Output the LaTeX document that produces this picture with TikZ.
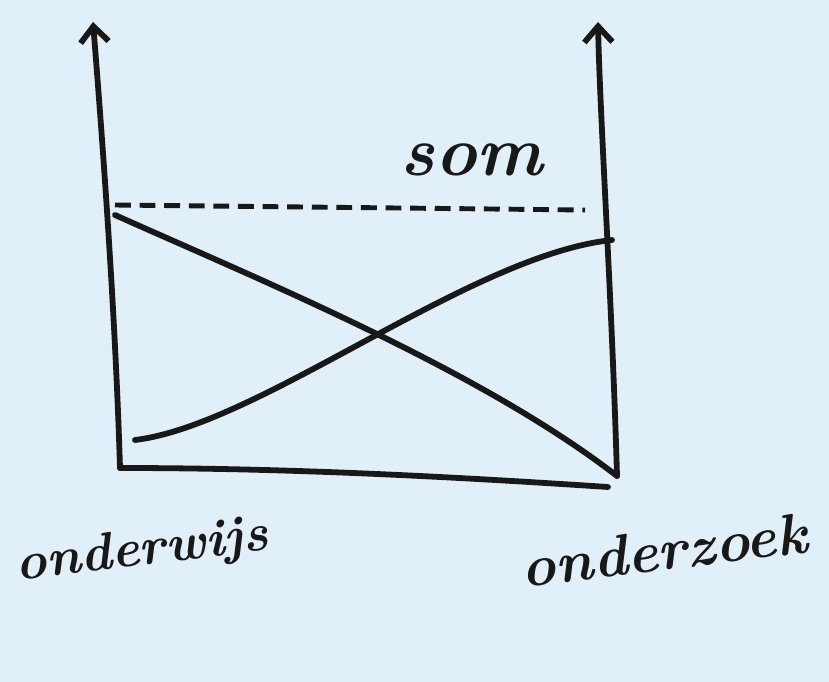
\documentclass[tikz,border=0pt]{standalone}
\usepackage{xcolor}
\usetikzlibrary{arrows.meta}
\definecolor{paper}{RGB}{224,239,248}
\definecolor{ink}{RGB}{24,24,24}

\begin{document}
\begin{tikzpicture}[
    x=0.02cm, y=-0.02cm,
    pen/.style={draw=ink, line width=3.3pt, line cap=round, line join=round},
    axis/.style={pen, -{Straight Barb[length=9pt, width=16pt, line width=3.3pt]}},
    sumline/.style={draw=ink, line width=2.8pt, dash pattern=on 9pt off 5pt},
    hand/.style={text=ink, font=\bfseries\itshape\fontsize{30}{36}\selectfont, inner sep=0pt},
]
\fill[paper] (0,0) rectangle (829,682);
\useasboundingbox (0,0) rectangle (829,682);

\coordinate (oL) at (120,468);
\coordinate (tL) at (93,22);
\coordinate (oR) at (617,476);
\coordinate (tR) at (598,22);
\coordinate (bR) at (608,487);
\coordinate (dA) at (115,215);
\coordinate (uA) at (135,440);
\coordinate (uB) at (612,240);
\coordinate (sA) at (115,205);
\coordinate (sB) at (585,210);

% axes
\draw[axis] (oL) .. controls (115,300) and (100,110) .. (tL);
\draw[axis] (oR) .. controls (612,300) and (600,120) .. (tR);
\draw[pen] (oL) .. controls (300,468) and (470,478) .. (bR);

% the two lines and their sum
\draw[pen] (dA) .. controls (260,280) and (480,370) .. (oR);
\draw[pen] (uA) .. controls (260,425) and (470,255) .. (uB);
\draw[sumline] (sA) -- (sB);

\node[hand, font=\bfseries\itshape\fontsize{40}{48}\selectfont] (som) at (472,160) {som};
\node[hand, rotate=7] (wijs) at (142,552) {onderwijs};
\node[hand, rotate=7, font=\bfseries\itshape\fontsize{33}{40}\selectfont] (zoek) at (664,550) {onderzoek};
\end{tikzpicture}
\end{document}
